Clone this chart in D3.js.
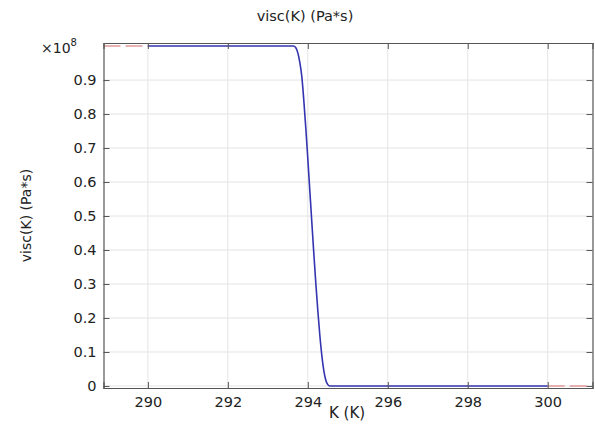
<!DOCTYPE html>
<html><head><meta charset="utf-8">
<script src="https://cdn.jsdelivr.net/npm/d3@7"></script>
<style>body{margin:0;background:#fff}svg{display:block}text{font-family:"DejaVu Sans",sans-serif;fill:#222}</style>
</head><body><svg id="c" width="595" height="425"></svg>
<script>
// Data: temperature K (K) and viscosity in units of 1e8 Pa*s
const kValues    = [290, 293.0, 293.64, 293.70, 293.75, 293.80, 293.85, 293.90, 293.95, 294.00, 294.05, 294.10, 294.15, 294.20, 294.25, 294.30, 294.35, 294.40, 294.45, 294.50, 294.55, 297, 300];
const viscValues = [1.0, 1.0, 1.0, 0.995, 0.980, 0.952, 0.910, 0.840, 0.758, 0.668, 0.575, 0.482, 0.390, 0.302, 0.222, 0.150, 0.090, 0.045, 0.017, 0.004, 0.0, 0.0, 0.0];
const extrapLeftK  = [288.89, 290];
const extrapLeftV  = [1.0, 1.0];
const extrapRightK = [300, 301.12];
const extrapRightV = [0.0, 0.0];
const xTicks = [290, 292, 294, 296, 298, 300];
const yTicks = [0, 0.1, 0.2, 0.3, 0.4, 0.5, 0.6, 0.7, 0.8, 0.9];
const xDomain = [288.89, 301.12];
const yDomain = [-0.006, 1.009];

const svg = d3.select("#c");
const L = 103.5, R = 592.5, T = 43, B = 388;
const x = d3.scaleLinear().domain(xDomain).range([L, R]);
const y = d3.scaleLinear().domain(yDomain).range([B, T]);

// grid
const g = svg.append("g");
g.selectAll("line.gx").data(xTicks).join("line")
  .attr("x1", d => x(d)).attr("x2", d => x(d)).attr("y1", T).attr("y2", B)
  .attr("stroke", "#e4e4e4").attr("stroke-width", 1);
g.selectAll("line.gy").data(yTicks).join("line")
  .attr("y1", d => y(d)).attr("y2", d => y(d)).attr("x1", L).attr("x2", R)
  .attr("stroke", "#e4e4e4").attr("stroke-width", 1);

// lines
const line = d3.line().x(d => x(d[0])).y(d => y(d[1]));
const dashColor = "#e09a9a";
svg.append("path").datum(d3.zip(extrapLeftK, extrapLeftV)).attr("d", line)
  .attr("fill", "none").attr("stroke", dashColor).attr("stroke-width", 1.6).attr("stroke-dasharray", "17,5");
svg.append("path").datum(d3.zip(extrapRightK, extrapRightV)).attr("d", line)
  .attr("fill", "none").attr("stroke", dashColor).attr("stroke-width", 1.6).attr("stroke-dasharray", "17,5");
svg.append("path").datum(d3.zip(kValues, viscValues)).attr("d", line.curve(d3.curveMonotoneX))
  .attr("fill", "none").attr("stroke", "#3434b0").attr("stroke-width", 1.6);

// axes (ticks inward on all sides)
const axColor = "#555";
const fmtY = d => d === 0 ? "0" : d3.format(".1f")(d);
const ax = svg.append("g").attr("transform", `translate(0,${B})`)
  .call(d3.axisBottom(x).tickValues(xTicks).tickSize(-6).tickPadding(9).tickFormat(d3.format("d")));
const ay = svg.append("g").attr("transform", `translate(${L},0)`)
  .call(d3.axisLeft(y).tickValues(yTicks).tickSize(-6).tickPadding(7).tickFormat(fmtY));
const at = svg.append("g").attr("transform", `translate(0,${T})`)
  .call(d3.axisTop(x).tickValues(xTicks).tickSize(-6).tickFormat(""));
const ar = svg.append("g").attr("transform", `translate(${R},0)`)
  .call(d3.axisRight(y).tickValues(yTicks).tickSize(-6).tickFormat(""));
[ax, ay, at, ar].forEach(a => {
  a.select(".domain").attr("stroke", axColor).attr("stroke-width", 1.2);
  a.selectAll(".tick line").attr("stroke", axColor).attr("stroke-width", 1);
  a.selectAll(".tick text").attr("font-size", 14.5).attr("fill", "#222").attr("font-family", "DejaVu Sans");
});
ax.selectAll(".tick text").attr("dy", "0.71em");

// exponent label
const ex = svg.append("text").attr("x", 41).attr("y", 53).attr("font-size", 14);
ex.append("tspan").text("×10");
ex.append("tspan").attr("font-size", 10).attr("dy", -7).text("8");

// titles
svg.append("text").attr("x", 305).attr("y", 21).attr("text-anchor", "middle").attr("font-size", 14.5).text("visc(K) (Pa*s)");
svg.append("text").attr("x", 347).attr("y", 418).attr("text-anchor", "middle").attr("font-size", 15).text("K (K)");
svg.append("text").attr("transform", `translate(31,${(T+B)/2}) rotate(-90)`).attr("text-anchor", "middle").attr("font-size", 14).text("visc(K) (Pa*s)");
</script></body></html>
